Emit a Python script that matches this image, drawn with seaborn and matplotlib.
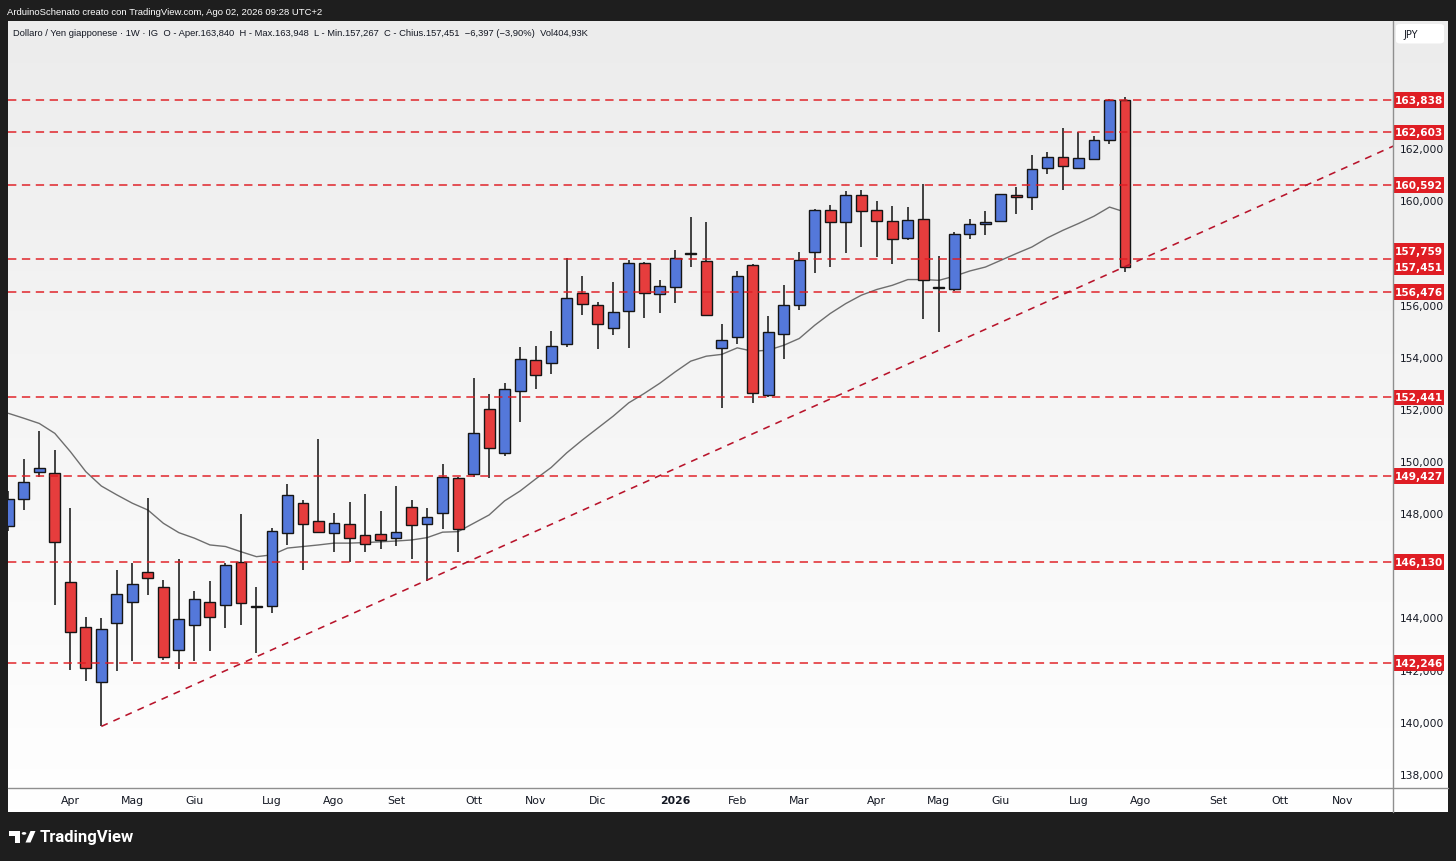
import numpy as np
import pandas as pd
import matplotlib
matplotlib.use("Agg")
import matplotlib.pyplot as plt
import matplotlib.transforms as mtransforms
from matplotlib.patches import Rectangle, FancyBboxPatch, Polygon, Circle
from matplotlib.lines import Line2D
from matplotlib.colors import LinearSegmentedColormap
import seaborn as sns

sns.set_theme(style="white")
plt.rcParams["font.family"] = ["DejaVu Sans"]
plt.rcParams["lines.scale_dashes"] = False

# ---------------- data ----------------
start_week = "2025-03-10"

opens = [147.51, 148.54, 149.59, 149.53, 145.36, 143.63, 141.53, 143.78, 144.59, 145.76,
         145.16, 142.76, 143.72, 144.61, 144.48, 146.12, 144.41, 144.44, 147.23, 148.38,
         147.69, 147.25, 147.57, 147.15, 147.19, 147.04, 148.23, 147.59, 148.00, 149.34,
         149.50, 151.98, 150.30, 152.69, 153.87, 153.74, 154.47, 156.46, 156.00, 155.12,
         155.74, 157.59, 156.41, 156.66, 157.95, 157.67, 154.34, 154.76, 157.51, 152.52,
         154.89, 155.98, 158.00, 159.64, 159.15, 160.19, 159.62, 159.20, 158.56, 159.28,
         156.62, 156.59, 158.70, 159.11, 159.20, 160.22, 160.13, 161.24, 161.66, 161.24,
         161.60, 162.30, 163.840]
highs = [148.85, 150.08, 151.15, 150.42, 148.20, 144.01, 143.98, 145.82, 146.10, 148.57,
         145.44, 146.23, 145.03, 145.38, 146.10, 147.96, 145.16, 147.42, 149.12, 148.51,
         150.84, 148.02, 148.44, 148.72, 148.10, 149.05, 148.51, 148.19, 149.87, 149.38,
         153.17, 152.56, 152.98, 154.38, 154.42, 154.98, 157.80, 157.11, 156.10, 156.87,
         157.70, 157.63, 156.93, 158.11, 159.36, 159.16, 155.25, 157.28, 157.57, 155.56,
         156.74, 158.02, 159.66, 159.81, 160.34, 160.38, 159.96, 159.78, 159.74, 160.64,
         157.87, 158.77, 159.27, 159.58, 160.25, 160.51, 161.72, 161.85, 162.77, 162.62,
         162.45, 163.89, 163.948]
lows = [147.30, 148.12, 149.40, 144.47, 141.99, 141.56, 139.82, 141.93, 142.31, 144.87,
        142.38, 142.04, 142.31, 142.73, 143.59, 143.69, 142.63, 144.16, 146.78, 145.80,
        147.25, 146.52, 146.14, 146.50, 146.62, 146.74, 146.23, 145.41, 147.38, 146.52,
        149.40, 149.34, 150.20, 151.50, 152.75, 153.33, 154.38, 155.59, 154.29, 154.83,
        154.32, 155.47, 155.66, 156.07, 157.44, 155.56, 152.02, 154.48, 152.21, 152.45,
        153.93, 155.79, 157.21, 157.44, 157.98, 158.21, 157.83, 157.54, 158.49, 155.43,
        154.95, 156.52, 158.53, 158.66, 159.18, 159.46, 159.64, 161.02, 160.41, 161.20,
        161.53, 162.15, 157.267]
closes = [148.54, 149.20, 149.74, 146.88, 143.44, 142.07, 143.57, 144.88, 145.28, 145.52,
          142.48, 143.93, 144.72, 144.01, 146.00, 144.55, 144.43, 147.33, 148.70, 147.59,
          147.28, 147.61, 147.04, 146.83, 146.96, 147.27, 147.56, 147.85, 149.40, 147.38,
          151.08, 150.51, 152.75, 153.90, 153.31, 154.43, 156.27, 156.04, 155.25, 155.70,
          157.61, 156.46, 156.72, 157.80, 157.98, 155.61, 154.66, 157.11, 152.59, 154.93,
          155.97, 157.70, 159.64, 159.15, 160.19, 159.59, 159.22, 158.53, 159.26, 156.96,
          156.66, 158.69, 159.11, 159.17, 160.23, 160.13, 161.21, 161.66, 161.30, 161.64,
          162.30, 163.84, 157.451]
ma_line = [151.83, 151.64, 151.44, 151.06, 150.36, 149.59, 149.04, 148.70, 148.38, 148.12,
           147.61, 147.25, 147.04, 146.78, 146.72, 146.52, 146.33, 146.40, 146.66, 146.72,
           146.78, 146.85, 146.85, 146.87, 146.90, 146.93, 146.97, 147.06, 147.27, 147.29,
           147.61, 147.93, 148.47, 148.85, 149.31, 149.75, 150.31, 150.80, 151.26, 151.72,
           152.23, 152.59, 152.98, 153.42, 153.83, 154.02, 154.09, 154.34, 154.21, 154.25,
           154.44, 154.70, 155.21, 155.66, 156.04, 156.36, 156.58, 156.74, 156.96, 156.96,
           156.93, 157.09, 157.29, 157.44, 157.70, 157.96, 158.21, 158.56, 158.85, 159.11,
           159.39, 159.74, 159.55]
levels = [163.838, 162.603, 160.592, 157.759, 156.476, 152.441, 149.427, 146.130, 142.246]
last_close = 157.451
trend_idx = [6.0, 89.3]
trend_price = [139.82, 162.08]
y_ticks = [138, 140, 142, 144, 146, 148, 150, 152, 154, 156, 158, 160, 162, 164]
hidden_ticks = [146, 158]   # fully covered by the price labels in the reference
month_names = ["Gen", "Feb", "Mar", "Apr", "Mag", "Giu", "Lug", "Ago", "Set", "Ott", "Nov", "Dic"]

header_text = "ArduinoSchenato creato con TradingView.com, Ago 02, 2026 09:28 UTC+2"
legend_text = ("Dollaro / Yen giapponese \u00b7 1W \u00b7 IG  O - Aper.163,840  H - Max.163,948  "
               "L - Min.157,267  C - Chius.157,451  \u22126,397 (\u22123,90%)  Vol404,93K")

# ---------------- figure ----------------
W, H, DPI = 1456, 862, 100
def fx(px):
    return px / W
def fy(py):
    return 1 - py / H

fig = plt.figure(figsize=(W / DPI, H / DPI), dpi=DPI, facecolor="#1e1e1e")

# panel background gradient
pl, pr, pt, pb = 8.3, 1447.7, 22.0, 813.3
bg = fig.add_axes([fx(pl), fy(pb), (pr - pl) / W, (pb - pt) / H])
grad = np.linspace(0, 1, 256).reshape(-1, 1)
cmap = LinearSegmentedColormap.from_list("g", ["#ececec", "#ffffff"])
bg.imshow(grad, aspect="auto", cmap=cmap, extent=[0, 1, 0, 1], origin="upper")
bg.axis("off")

# main axes
al, ar, at, ab = 8.3, 1392.7, 22.0, 789.3
ax = fig.add_axes([fx(al), fy(ab), (ar - al) / W, (ab - at) / H])
ax.set_facecolor("none")

ylo, yhi = 137.445, 166.878

x = np.arange(len(opens))
o = np.array(opens); c = np.array(closes); hi = np.array(highs); lo = np.array(lows)
up = c >= o
cols = np.where(up, "#5478da", "#e63d3d")
bottoms = np.minimum(o, c)
heights = np.maximum(np.abs(c - o), 0.02)

# moving average
sns.lineplot(x=x, y=ma_line, ax=ax, color="#6e6e6e", linewidth=1.0, legend=False, zorder=2)

# wicks and bodies
ax.vlines(x, lo, hi, color="#111111", linewidth=1.1, zorder=3)
ax.bar(x, heights, bottom=bottoms, width=0.7, color=cols, edgecolor="#151515",
       linewidth=1.0, zorder=4)

# horizontal levels
for lv in levels:
    ax.axhline(lv, color="#e01c22", linewidth=1.15, dashes=(6, 4), alpha=0.92, zorder=5)

# trendline
ax.plot(trend_idx, trend_price, color="#b8142b", linewidth=1.15, dashes=(5, 4.5), zorder=5)

ax.set_xlim(0, 89.26)
ax.set_ylim(ylo, yhi)

# x ticks: first weekly bar of each month
dates = pd.date_range(start_week, periods=95, freq="7D")
xt, xl = [], []
for i in range(1, len(dates)):
    if i > 89:
        break
    if dates[i].month != dates[i - 1].month:
        xt.append(i)
        xl.append(str(dates[i].year) if dates[i].month == 1 else month_names[dates[i].month - 1])
ax.set_xticks(xt)
ax.set_xticklabels(xl)
for t in ax.get_xticklabels():
    if t.get_text().isdigit():
        t.set_fontweight("bold")

ax.yaxis.tick_right()
ax.set_yticks(y_ticks)
ax.set_yticklabels(["" if v in hidden_ticks else f"{v:.3f}".replace(".", ",") for v in y_ticks])
ax.tick_params(axis="y", length=0, pad=5.2, labelsize=7.7, labelcolor="#131722")
ax.tick_params(axis="x", length=0, pad=5.0, labelsize=7.8, labelcolor="#131722")
for s in ax.spines.values():
    s.set_visible(False)
ax.grid(False)

# separators
fig.add_artist(Line2D([fx(ar), fx(ar)], [fy(pt), fy(pb)], color="#8f8f8f", linewidth=1.0))
fig.add_artist(Line2D([fx(pl), fx(pr)], [fy(ab), fy(ab)], color="#8f8f8f", linewidth=1.0))

# red price labels on the axis
trans = mtransforms.blended_transform_factory(ax.transAxes, ax.transData)
ax_w_px = ar - al
bx0 = (1393.3 - al) / ax_w_px
bw = (1444.0 - 1393.3) / ax_w_px
px_per_unit = (ab - at) / (yhi - ylo)
bh = 15.6 / px_per_unit
label_pos = {lv: lv for lv in levels}
label_pos[157.759] = last_close + bh
label_pos[last_close] = last_close
for val, cy in label_pos.items():
    ax.add_patch(Rectangle((bx0, cy - bh / 2), bw, bh, transform=trans, clip_on=False,
                           facecolor="#df1d24", edgecolor="none", zorder=10))
    ax.text(bx0 + bw / 2, cy, f"{val:.3f}".replace(".", ","), transform=trans, ha="center",
            va="center", color="white", fontsize=7.6, fontweight="bold", clip_on=False, zorder=11)

# JPY box
fig.add_artist(FancyBboxPatch((fx(1396), fy(44.5)), fx(1444 - 1396), (44.5 - 25) / H,
                              boxstyle="round,pad=0,rounding_size=0.003",
                              transform=fig.transFigure, facecolor="white", edgecolor="none"))
fig.text(fx(1403), fy(35), "JPY", color="#131722", fontsize=7, va="center", ha="left")

# header and legend (font size fitted to the width they take in the reference)
fig.canvas.draw()
renderer = fig.canvas.get_renderer()

def fitted_text(x0, yc, s, target_w, color, fs0):
    t = fig.text(fx(x0), fy(yc), s, color=color, fontsize=fs0, va="center", ha="left",
                 family=["Liberation Sans", "DejaVu Sans"])
    w = t.get_window_extent(renderer).width
    t.set_fontsize(fs0 * target_w / w)
    return t

fitted_text(7.3, 12.8, header_text, 313.0, "white", 7.0)
fitted_text(13.3, 33.0, legend_text, 578.0, "#131722", 7.0)

# TradingView logo
fig.add_artist(Rectangle((fx(9.3), fy(836.8)), fx(10.7), 4.8 / H, transform=fig.transFigure,
                         facecolor="white", edgecolor="none"))
fig.add_artist(Rectangle((fx(14.7), fy(843.5)), fx(5.3), 11.5 / H, transform=fig.transFigure,
                         facecolor="white", edgecolor="none"))
fig.add_artist(Circle((fx(24.0), fy(834.4)), 2.3 / W, transform=fig.transFigure,
                      facecolor="white", edgecolor="none"))
fig.add_artist(Polygon([(fx(25.5), fy(843.5)), (fx(30.5), fy(843.5)), (fx(35.5), fy(832.0)),
                        (fx(30.5), fy(832.0))], closed=True, transform=fig.transFigure,
                       facecolor="white", edgecolor="none"))
fig.text(fx(40), fy(838), "TradingView", color="white", fontsize=12, fontweight="bold",
         family=["Roboto", "DejaVu Sans"], va="center", ha="left")

fig.savefig("out.png", dpi=DPI, facecolor=fig.get_facecolor())
